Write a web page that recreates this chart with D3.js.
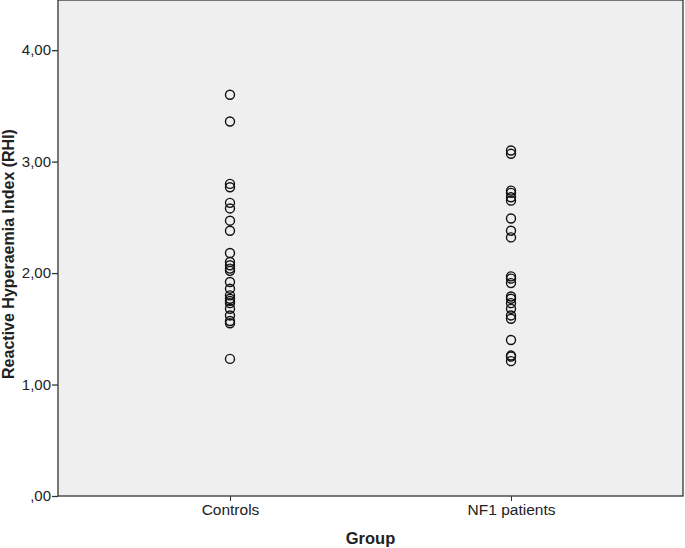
<!DOCTYPE html>
<html><head><meta charset="utf-8">
<script src="https://cdn.jsdelivr.net/npm/d3@7"></script>
<style>body{margin:0;background:#fff}svg{display:block}</style>
</head><body>
<script>
const categories = ["Controls", "NF1 patients"];
const controlsValues = [3.60, 3.36, 2.80, 2.77, 2.63, 2.58, 2.47, 2.38, 2.18, 2.10, 2.07, 2.04, 2.02, 1.92, 1.86, 1.80, 1.77, 1.75, 1.73, 1.68, 1.62, 1.57, 1.55, 1.23];
const nf1Values = [3.10, 3.07, 2.74, 2.72, 2.68, 2.65, 2.49, 2.38, 2.32, 1.97, 1.95, 1.91, 1.79, 1.77, 1.73, 1.68, 1.62, 1.59, 1.40, 1.26, 1.25, 1.21];
const yTicks = [0, 1, 2, 3, 4];
const yTickLabels = [",00", "1,00", "2,00", "3,00", "4,00"];
const xTitle = "Group";
const yTitle = "Reactive Hyperaemia Index (RHI)";

const W = 685, H = 548;
const L = 58, R = 683, T = 0, B = 496;
const svg = d3.select("body").append("svg").attr("width", W).attr("height", H)
  .style("font-family", "Arial, 'Liberation Sans', sans-serif");

const x = d3.scalePoint().domain(categories).range([L, R]).padding(0.612);
const y = d3.scaleLinear().domain([0, 4.45]).range([B, T]);

svg.append("rect").attr("x", L).attr("y", T).attr("width", R - L).attr("height", B - T)
  .attr("fill", "#efefef").attr("stroke", "#333").attr("stroke-width", 1.3);

const yAxis = d3.axisLeft(y).tickValues(yTicks).tickFormat((d, i) => yTickLabels[i]).tickSize(6).tickSizeOuter(0);
const gy = svg.append("g").attr("transform", `translate(${L},0)`).call(yAxis);
gy.select(".domain").remove();
gy.selectAll("line").attr("stroke", "#333").attr("stroke-width", 1.3);
gy.selectAll("text").attr("font-size", 15).attr("fill", "#222").attr("x", -7);

const xAxis = d3.axisBottom(x).tickSize(5).tickSizeOuter(0);
const gx = svg.append("g").attr("transform", `translate(0,${B})`).call(xAxis);
gx.select(".domain").remove();
gx.selectAll("line").attr("stroke", "#333").attr("stroke-width", 1);
gx.selectAll("text").attr("font-size", 15.5).attr("fill", "#222").attr("dy", "0.8em").attr("y", 7);

const pts = [];
controlsValues.forEach(v => pts.push({c: categories[0], v}));
nf1Values.forEach(v => pts.push({c: categories[1], v}));
svg.append("g").selectAll("circle").data(pts).join("circle")
  .attr("cx", d => x(d.c)).attr("cy", d => y(d.v)).attr("r", 4.5)
  .attr("fill", "none").attr("stroke", "#111").attr("stroke-width", 1.4);

svg.append("text").attr("x", (L + R) / 2).attr("y", 544).attr("text-anchor", "middle")
  .attr("font-size", 16.5).attr("font-weight", "bold").attr("fill", "#222").text(xTitle);
svg.append("text").attr("transform", `translate(14,254) rotate(-90)`)
  .attr("text-anchor", "middle").attr("font-size", 16).attr("font-weight", "bold").attr("fill", "#222").text(yTitle);
</script>
</body></html>
